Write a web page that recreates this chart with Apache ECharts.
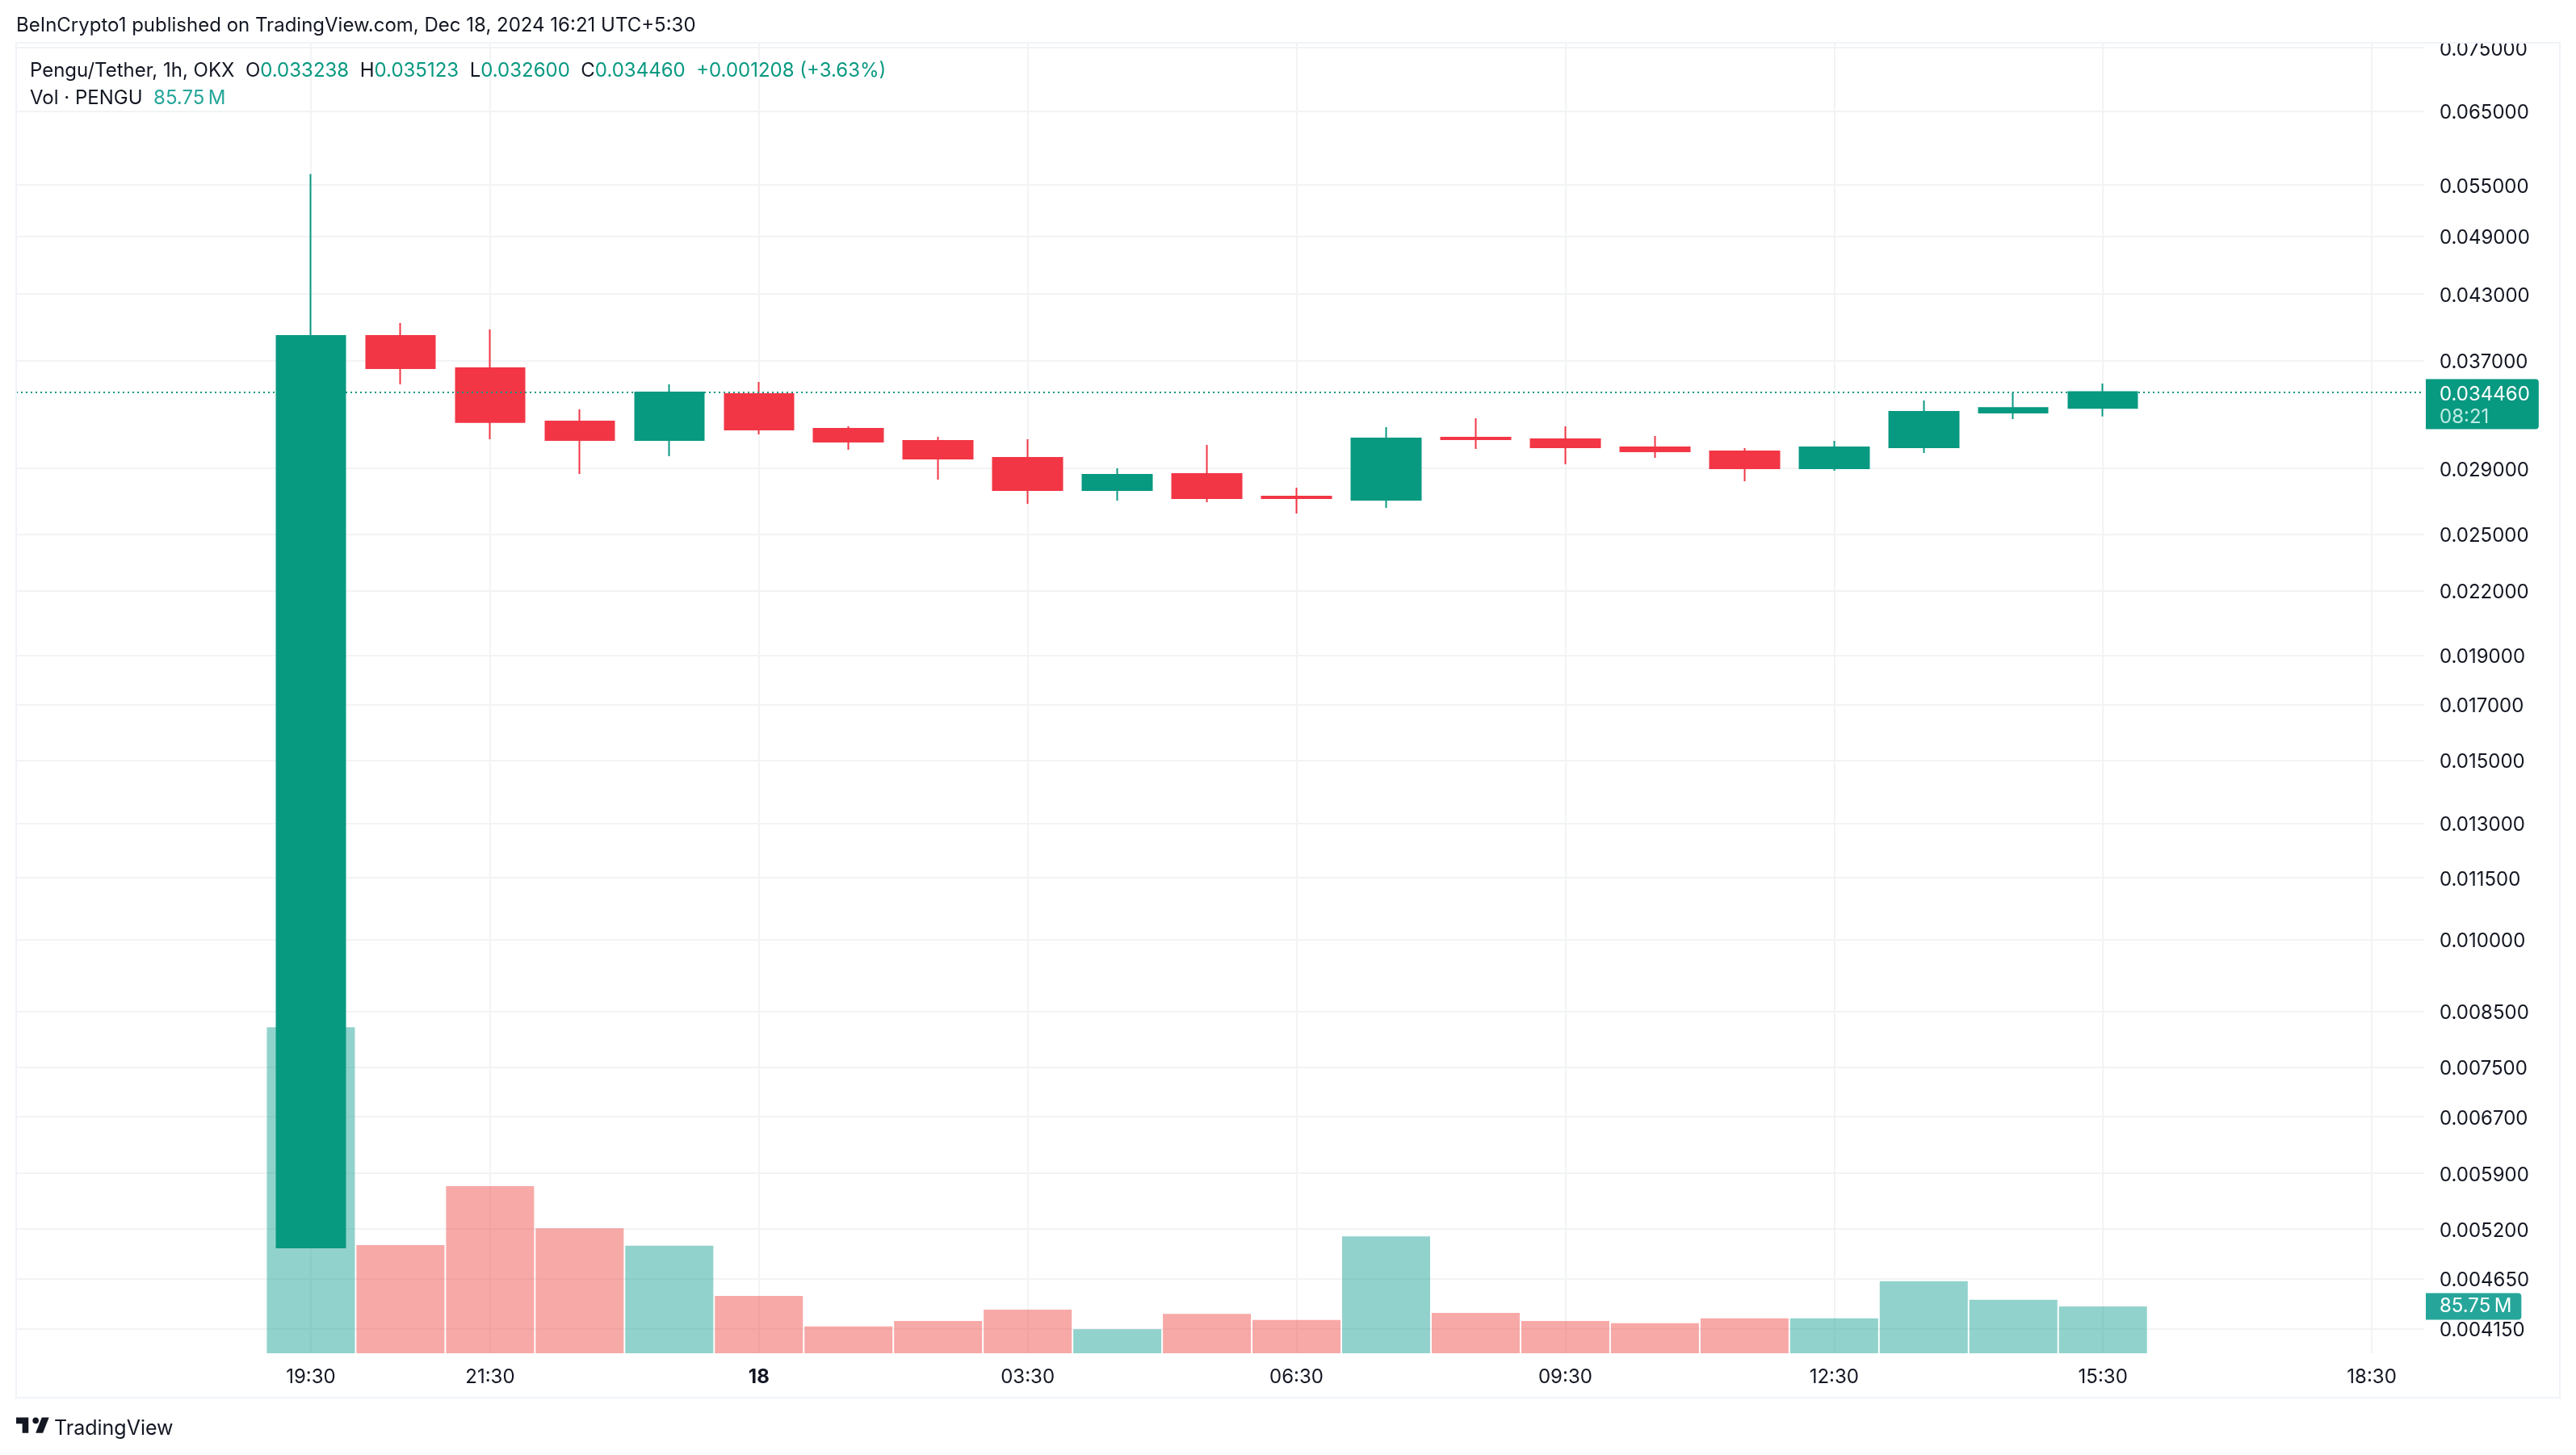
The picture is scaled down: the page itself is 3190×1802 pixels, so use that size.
<!DOCTYPE html>
<html>
<head>
<meta charset="utf-8">
<title>Pengu/Tether 1h</title>
<script src="https://cdn.jsdelivr.net/npm/echarts@6/dist/echarts.min.js"></script>
<style>
    html, body { margin: 0; padding: 0; background: #fff; }
    #chart { width: 3190px; height: 1802px; }
</style>
</head>
<body>
<div id="chart"></div>
<script>
// hourly bars
const times = [
    '2024-12-17T19:30', '2024-12-17T20:30', '2024-12-17T21:30', '2024-12-17T22:30', '2024-12-17T23:30',
    '2024-12-18T00:30', '2024-12-18T01:30', '2024-12-18T02:30', '2024-12-18T03:30', '2024-12-18T04:30',
    '2024-12-18T05:30', '2024-12-18T06:30', '2024-12-18T07:30', '2024-12-18T08:30', '2024-12-18T09:30',
    '2024-12-18T10:30', '2024-12-18T11:30', '2024-12-18T12:30', '2024-12-18T13:30', '2024-12-18T14:30',
    '2024-12-18T15:30'
]
const opens = [
    0.004988, 0.039109, 0.036357, 0.032233, 0.030909, 0.034296, 0.031708, 0.030852, 0.029693, 0.027604,
    0.028629, 0.027204, 0.027006, 0.031079, 0.030965, 0.030405, 0.030129, 0.028997, 0.030405, 0.032886,
    0.033238
]
const closes = [
    0.039109, 0.036357, 0.032190, 0.030909, 0.034421, 0.031651, 0.030796, 0.029639, 0.027604, 0.028577,
    0.027105, 0.027105, 0.031022, 0.030965, 0.030405, 0.030129, 0.028997, 0.030405, 0.032946, 0.033238,
    0.034460
]
const lows = [
    0.004988, 0.035055, 0.030965, 0.028629, 0.029801, 0.031306, 0.030239, 0.028266, 0.026761, 0.026957,
    0.026858, 0.026181, 0.026517, 0.030295, 0.029263, 0.029693, 0.028163, 0.028839, 0.030020, 0.032410,
    0.032600
]
const highs = [
    0.056368, 0.040268, 0.039684, 0.033127, 0.035055, 0.035247, 0.031882, 0.031135, 0.030965, 0.028997,
    0.030572, 0.027755, 0.031824, 0.032469, 0.031882, 0.031192, 0.030350, 0.030852, 0.033799, 0.034421,
    0.035123
]
// volume in millions
const volumes = [597, 198, 306, 229, 197, 105, 49, 59, 80, 44, 72, 61, 214, 74, 59, 55, 64, 64, 132, 98, 85.75]

const priceTicks = [
    0.075, 0.065, 0.055, 0.049, 0.043, 0.037, 0.029, 0.025, 0.022, 0.019, 0.017,
    0.015, 0.013, 0.0115, 0.01, 0.0085, 0.0075, 0.0067, 0.0059, 0.0052, 0.00465, 0.00415
]
const timeTicks = [
    '2024-12-17T19:30', '2024-12-17T21:30', '2024-12-18T00:30', '2024-12-18T03:30', '2024-12-18T06:30',
    '2024-12-18T09:30', '2024-12-18T12:30', '2024-12-18T15:30', '2024-12-18T18:30'
]
const timeLabels = ['19:30', '21:30', '18', '03:30', '06:30', '09:30', '12:30', '15:30', '18:30']

const lastPrice = 0.03446
const lastVolume = 85.75
const countdown = '08:21'

const UP = '#089981'
const DOWN = '#F23645'
const VOL_UP = 'rgba(38,166,154,0.5)'
const VOL_DOWN = 'rgba(239,83,80,0.5)'
const GRID = '#F2F3F5'
const TEXT = '#131722'
const FONT = 'Inter'

const toMs = s => new Date(s).getTime()
const tickMs = timeTicks.map(toMs)
const HOUR = 3600000

const chart = echarts.init(document.querySelector('#chart'))

const richKey = { fontFamily: FONT, fontSize: 24, fontWeight: 400, color: TEXT }

const option = {
    animation: false,
    backgroundColor: '#fff',
    textStyle: { fontFamily: FONT },
    title: [
        {
            text: 'BeInCrypto1 published on TradingView.com, Dec 18, 2024 16:21 UTC+5:30',
            left: 20, top: 20, padding: 0,
            textStyle: { fontFamily: FONT, fontSize: 24, fontWeight: 400, color: TEXT }
        },
        {
            text: '{k|Pengu/Tether, 1h, OKX}  {k|O}{v|0.033238}  {k|H}{v|0.035123}  {k|L}{v|0.032600}  {k|C}{v|0.034460}  {v|+0.001208 (+3.63%)}',
            left: 37, top: 76, padding: 0,
            textStyle: {
                fontFamily: FONT, fontSize: 24, fontWeight: 400,
                rich: {
                    k: richKey,
                    v: { fontFamily: FONT, fontSize: 24, fontWeight: 400, color: UP }
                }
            }
        },
        {
            text: '{k|Vol · PENGU}  {v|85.75\u2009M}',
            left: 37, top: 110, padding: 0,
            textStyle: {
                fontFamily: FONT, fontSize: 24, fontWeight: 400,
                rich: {
                    k: richKey,
                    v: { fontFamily: FONT, fontSize: 24, fontWeight: 400, color: '#26A69A' }
                }
            }
        },
        {
            text: 'TradingView',
            left: 67, top: 1757, padding: 0,
            textStyle: { fontFamily: FONT, fontSize: 25, fontWeight: 400, color: TEXT }
        }
    ],
    grid: { left: 20, right: 188, top: 53, bottom: 126 },
    xAxis: {
        // value axis holding epoch ms: custom ticks do not work on a time axis here
        type: 'value',
        min: toMs(times[0]) - 3.289 * HOUR,
        max: toMs(times[0]) + 23.585 * HOUR,
        axisLine: { show: false },
        axisTick: { show: false, customValues: tickMs },
        splitLine: { show: true, lineStyle: { color: GRID, width: 2 } },
        axisLabel: {
            customValues: tickMs,
            margin: 18,
            fontFamily: FONT,
            fontSize: 24,
            color: TEXT,
            formatter: v => {
                const label = timeLabels[tickMs.indexOf(v)]
                return label === '18' ? `{b|${label}}` : label
            },
            rich: { b: { fontFamily: FONT, fontSize: 24, fontWeight: 700, color: TEXT } }
        }
    },
    yAxis: [
        {
            type: 'log',
            position: 'right',
            min: 0.003927,
            max: 0.075834,
            axisLine: { show: false },
            axisTick: { show: false, customValues: priceTicks },
            splitLine: { show: true, lineStyle: { color: GRID, width: 2 } },
            axisLabel: {
                customValues: priceTicks,
                margin: 19,
                formatter: v => `{t|${v.toFixed(6)}}`,
                // nudges the text down a little from the gridline
                rich: { t: { fontFamily: FONT, fontSize: 24, color: TEXT, padding: [5, 0, 0, 0] } }
            }
        },
        {
            // volume scale, not shown
            type: 'value',
            position: 'right',
            min: 0,
            max: 2400,
            show: false,
            splitLine: { show: false }
        }
    ],
    series: [
        {
            name: 'Vol',
            type: 'bar',
            xAxisIndex: 0,
            yAxisIndex: 1,
            z: 1,
            barWidth: 109,
            data: times.map((t, i) => ({
                value: [toMs(t), volumes[i]],
                itemStyle: { color: closes[i] >= opens[i] ? VOL_UP : VOL_DOWN }
            })),
            markLine: {
                silent: true,
                symbol: 'none',
                z: 10,
                lineStyle: { color: 'transparent' },
                data: [{
                    yAxis: lastVolume,
                    label: {
                        show: true,
                        position: 'end',
                        distance: 2,
                        formatter: lastVolume + '\u2009M',
                        fontFamily: FONT,
                        fontSize: 24,
                        color: '#fff',
                        backgroundColor: '#26A69A',
                        padding: [5, 12, 4, 17],
                        borderRadius: [0, 4, 4, 0]
                    }
                }]
            }
        },
        {
            name: 'Pengu/Tether',
            type: 'candlestick',
            xAxisIndex: 0,
            yAxisIndex: 0,
            z: 3,
            barWidth: 86,
            encode: { x: 0, y: [1, 2, 3, 4] },
            itemStyle: {
                color: UP,
                color0: DOWN,
                borderColor: UP,
                borderColor0: DOWN,
                borderWidth: 2
            },
            data: times.map((t, i) => [toMs(t), opens[i], closes[i], lows[i], highs[i]]),
            markLine: {
                silent: true,
                symbol: 'none',
                precision: 6,
                z: 10,
                lineStyle: { color: UP, type: [2, 4], width: 2 },
                data: [{
                    yAxis: lastPrice,
                    label: {
                        show: true,
                        position: 'end',
                        distance: 2,
                        offset: [0, 15],
                        formatter: `{p|${lastPrice.toFixed(6)}}\n{c|${countdown}}`,
                        backgroundColor: UP,
                        padding: [5, 11, 1, 17],
                        borderRadius: [0, 4, 4, 0],
                        rich: {
                            p: { fontFamily: FONT, fontSize: 24, color: '#fff', lineHeight: 28 },
                            c: { fontFamily: FONT, fontSize: 24, color: '#BDEBE2', lineHeight: 28 }
                        }
                    }
                }]
            }
        }
    ],
    graphic: [
        // chart frame, and the mask that cuts the top tick label at the frame
        { type: 'rect', z: 50, shape: { x: 3004, y: 30, width: 166, height: 23 }, style: { fill: '#fff' } },
        {
            type: 'rect', z: 51,
            shape: { x: 20, y: 53, width: 3150, height: 1678 },
            style: { fill: 'none', stroke: '#F0F3FA', lineWidth: 2 }
        },
        // TradingView logo
        {
            type: 'group', z: 51, x: 17.5, y: 1748, scaleX: 1.27, scaleY: 1.27,
            children: [
                { type: 'polygon', shape: { points: [[2, 6], [14, 6], [14, 21], [8, 21], [8, 12], [2, 12]] }, style: { fill: TEXT } },
                { type: 'polygon', shape: { points: [[21, 21], [28, 21], [34, 6], [27, 6]] }, style: { fill: TEXT } },
                { type: 'circle', shape: { cx: 21, cy: 9, r: 3 }, style: { fill: TEXT } }
            ]
        }
    ]
}
chart.setOption(option)
</script>
</body>
</html>
